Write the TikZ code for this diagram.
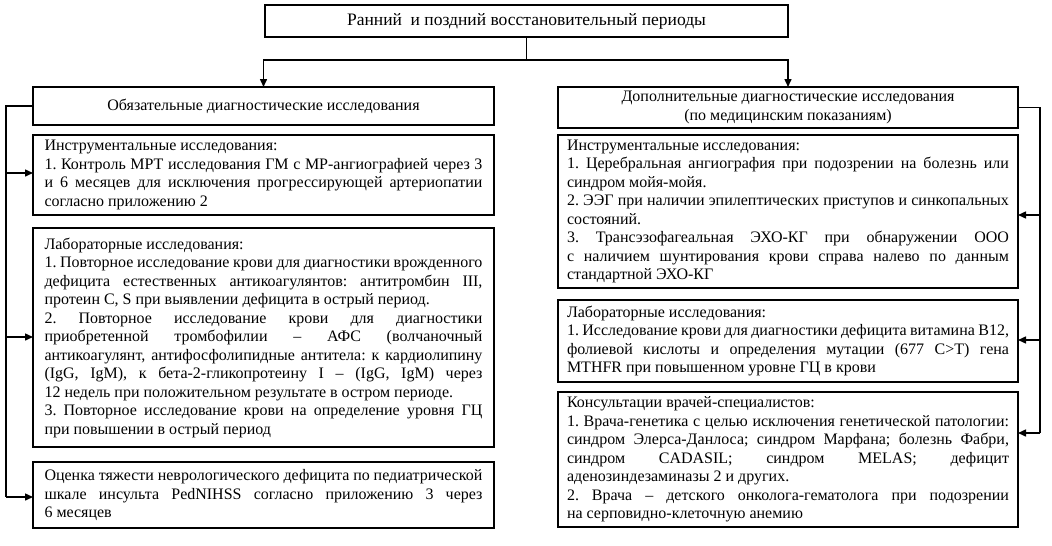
\documentclass[tikz,border=0pt]{standalone}
\usepackage{fontspec}
\setmainfont{Liberation Serif}
\usepackage{tikz}
\usetikzlibrary{arrows.meta, positioning, calc}
\tolerance=9999
\hyphenpenalty=10000
\exhyphenpenalty=10000
\frenchspacing

\begin{document}
\begin{tikzpicture}[
  x=1pt, y=-1pt,
  font=\fontsize{16}{18.5}\selectfont,
  wire/.style={line width=1.5pt},
  headbox/.style={draw, line width=1.5pt, outer sep=0pt, align=center, inner sep=3pt},
  textbox/.style={draw, line width=1.5pt, outer sep=0pt, align=justify, inner ysep=3pt},
  lbox/.style={textbox, text width=438pt, inner xsep=11.5pt},
  rbox/.style={textbox, text width=442pt, inner xsep=9pt},
  arr/.style={-{Triangle[length=8pt, width=7pt]}, line width=1.5pt}
]
  \useasboundingbox (0,0) rectangle (1052,546);

  \node[headbox, minimum width=523pt, minimum height=32pt, font=\fontsize{17.5}{20}\selectfont]
    (period) at (526.5,21) {Ранний\ \ и поздний восстановительный периоды};

  \node[headbox, minimum width=461pt, minimum height=38pt] (lhead) at (263.5,106)
    {Обязательные диагностические исследования};
  \node[headbox, minimum width=460pt, minimum height=41pt] (rhead) at (788,107.5)
    {Дополнительные диагностические исследования\\(по медицинским показаниям)};

  % left column
  \node[lbox, minimum height=80pt, below=10pt of lhead] (linst)
    {Инструментальные исследования:\par
     1. Контроль МРТ исследования ГМ с МР-ангиографией через 3\linebreak
     и 6 месяцев для исключения прогрессирующей артериопатии\linebreak
     согласно приложению 2};
  \node[lbox, minimum height=219pt, below=13pt of linst] (llab)
    {Лабораторные исследования:\par
     1. Повторное исследование крови для диагностики врожденного\linebreak
     дефицита естественных антикоагулянтов: антитромбин III,\linebreak
     протеин C, S при выявлении дефицита в острый период.\par
     2. Повторное исследование крови для диагностики\linebreak
     приобретенной тромбофилии -- АФС (волчаночный\linebreak
     антикоагулянт, антифосфолипидные антитела: к кардиолипину\linebreak
     (IgG, IgM), к бета-2-гликопротеину I -- (IgG, IgM) через\linebreak
     12 недель при положительном результате в остром периоде.\par
     3. Повторное исследование крови на определение уровня ГЦ\linebreak
     при повышении в острый период};
  \node[lbox, minimum height=66pt, below=15pt of llab] (lscale)
    {Оценка тяжести неврологического дефицита по педиатрической\linebreak
     шкале инсульта PedNIHSS согласно приложению 3 через\linebreak
     6 месяцев};

  % right column
  \node[rbox, minimum height=153pt, below=7pt of rhead] (rinst)
    {Инструментальные исследования:\par
     1. Церебральная ангиография при подозрении на болезнь или\linebreak
     синдром мойя-мойя.\par
     2. ЭЭГ при наличии эпилептических приступов и синкопальных\linebreak
     состояний.\par
     3. Трансэзофагеальная ЭХО-КГ при обнаружении ООО\linebreak
     с наличием шунтирования крови справа налево по данным\linebreak
     стандартной ЭХО-КГ};
  \node[rbox, minimum height=82pt, below=12pt of rinst] (rlab)
    {Лабораторные исследования:\par
     1. Исследование крови для диагностики дефицита витамина В12,\linebreak
     фолиевой кислоты и определения мутации (677 C>T) гена\linebreak
     MTHFR при повышенном уровне ГЦ в крови};
  \node[rbox, minimum height=135pt, below=10pt of rlab] (rcons)
    {Консультации врачей-специалистов:\par
     1. Врача-генетика с целью исключения генетической патологии:\linebreak
     синдром Элерса-Данлоса; синдром Марфана; болезнь Фабри,\linebreak
     синдром CADASIL; синдром MELAS; дефицит\linebreak
     аденозиндезаминазы 2 и других.\par
     2. Врача -- детского онколога-гематолога при подозрении\linebreak
     на серповидно-клеточную анемию};

  % split below the title
  \coordinate (split) at ($(period.south)+(0,23)$);
  \draw[wire] (period.south) -- (split);
  \draw[arr] (split) -| (lhead.north);
  \draw[arr] (split) -| (rhead.north);

  % left bus
  \coordinate (lbus1) at (6,173);
  \coordinate (lbus2) at (6,337);
  \coordinate (lbus3) at (6,497);
  \draw[wire] (lhead.west) -| (lbus3);
  \draw[arr] (lbus1) -- (linst.west |- lbus1);
  \draw[arr] (lbus2) -- (llab.west |- lbus2);
  \draw[arr] (lbus3) -- (lscale.west |- lbus3);

  % right bus
  \coordinate (rbus1) at (1040,215);
  \coordinate (rbus2) at (1040,340);
  \coordinate (rbus3) at (1040,433);
  \draw[wire] (rhead.east) -| (rbus3);
  \draw[arr] (rbus1) -- (rinst.east |- rbus1);
  \draw[arr] (rbus2) -- (rlab.east |- rbus2);
  \draw[arr] (rbus3) -- (rcons.east |- rbus3);
\end{tikzpicture}
\end{document}
